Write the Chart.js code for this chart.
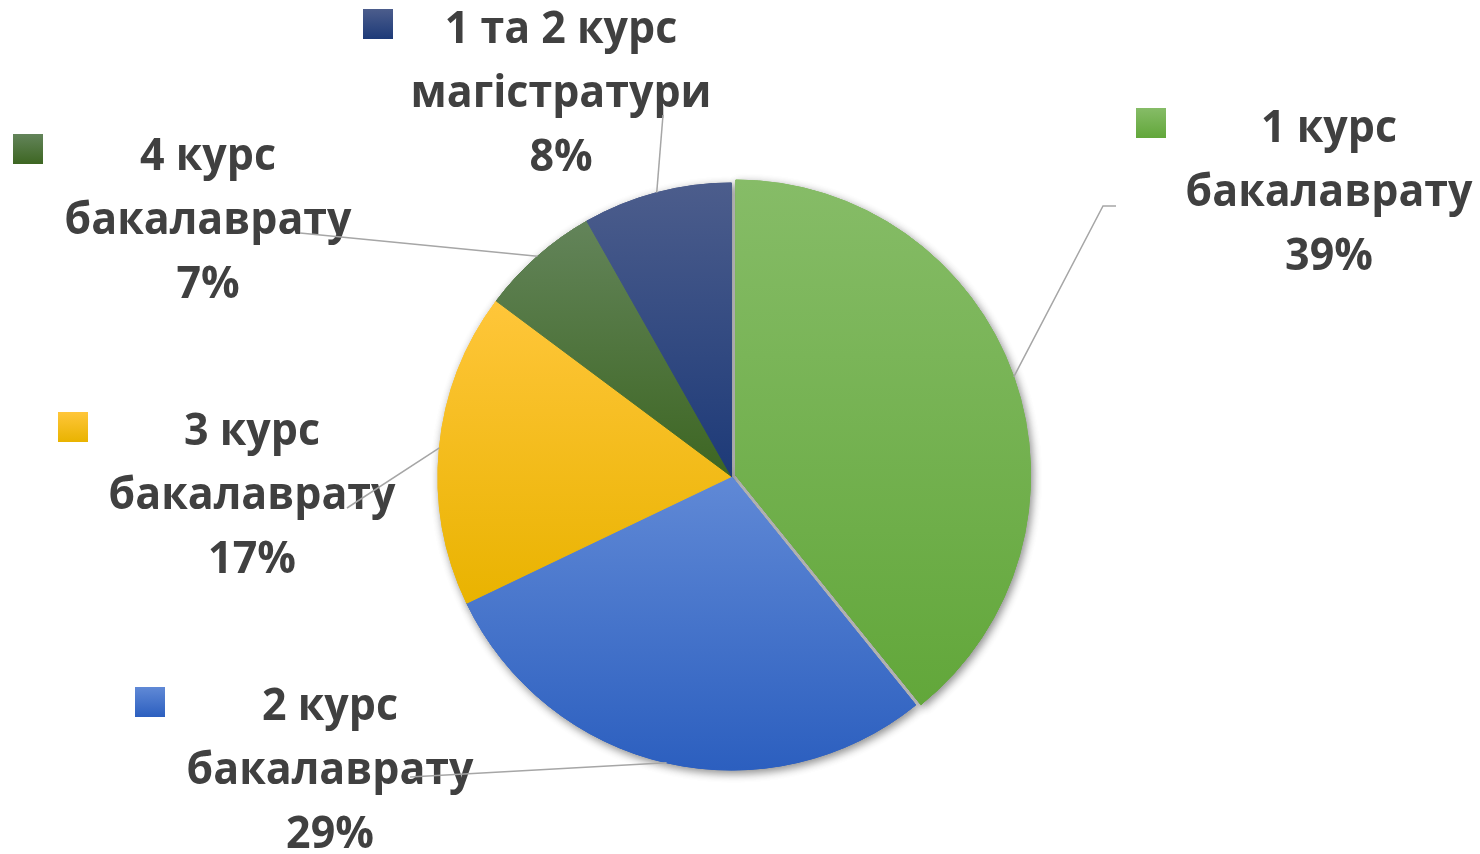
<!DOCTYPE html>
<html>
<head>
<meta charset="utf-8">
<script src="https://cdn.jsdelivr.net/npm/chart.js@4.4.1/dist/chart.umd.min.js"></script>
<style>
  html, body { margin: 0; padding: 0; background: #fff; }
  #wrap { width: 1480px; height: 854px; position: relative; }
</style>
</head>
<body>
<div id="wrap"><canvas id="pieChart" width="1480" height="854"></canvas></div>
<script>
  // data
  const categories = ['1 курс бакалаврату', '2 курс бакалаврату', '3 курс бакалаврату', '4 курс бакалаврату', '1 та 2 курс магістратури'];
  const labelLines = [['1 курс', 'бакалаврату'], ['2 курс', 'бакалаврату'], ['3 курс', 'бакалаврату'], ['4 курс', 'бакалаврату'], ['1 та 2 курс', 'магістратури']];
  const shares = [39.2, 28.7, 17.3, 6.6, 8.2];

  // colours (top / bottom of each slice gradient)
  const topColors = ['#86bc67', '#6089d6', '#ffc63a', '#63845a', '#4c5d8c'];
  const bottomColors = ['#62a73a', '#2c5fbf', '#e9b300', '#3d6622', '#1d3a78'];

  // label placement: text centre x, first baseline y, legend key top-left, leader line end
  const labelLayout = [
    { x: 1329, y: 142, key: [1136, 108], line: [[1103, 206], [1116, 206]] },
    { x: 330, y: 720, key: [135, 687], line: [[410, 777]] },
    { x: 252, y: 445, key: [58, 412], line: [[347, 508]] },
    { x: 208, y: 170, key: [13, 134], line: [[300, 233]] },
    { x: 561, y: 43, key: [363, 9], line: [[663, 115]] }
  ];

  const pieRadius = 293.5;
  const fontFamily = "'Open Sans', 'Noto Sans', sans-serif";
  const textColor = '#404040';
  const lineHeight = 64;

  const total = shares.reduce((a, b) => a + b, 0);

  function sliceGradient(context) {
    const i = context.dataIndex;
    const chart = context.chart;
    const ca = chart.chartArea;
    if (!ca || i === undefined) return topColors[i || 0];
    const cx = (ca.left + ca.right) / 2, cy = (ca.top + ca.bottom) / 2;
    let cum = 0;
    for (let k = 0; k < i; k++) cum += shares[k];
    const a0 = -Math.PI / 2 + 2 * Math.PI * cum / total;
    const a1 = a0 + 2 * Math.PI * shares[i] / total;
    const ys = [cy, cy + Math.sin(a0) * pieRadius, cy + Math.sin(a1) * pieRadius];
    [Math.PI / 2, 3 * Math.PI / 2].forEach(a => {
      if (a > a0 && a < a1) ys.push(cy + Math.sin(a) * pieRadius);
    });
    const g = chart.ctx.createLinearGradient(0, Math.min(...ys), 0, Math.max(...ys));
    g.addColorStop(0, topColors[i]);
    g.addColorStop(1, bottomColors[i]);
    return g;
  }

  // how far Chart.js actually moves an arc for a given offset
  function shiftOf(arc) {
    const off = (arc.options.offset || 0) / 4;
    const fix = 1 - Math.sin(Math.min(Math.PI, arc.circumference || 0));
    return off + off * fix;
  }

  // soft shadow under the slices
  const shadowPlugin = {
    id: 'sliceShadow',
    beforeDatasetsDraw(chart) {
      const ctx = chart.ctx;
      ctx.save();
      ctx.shadowColor = 'rgba(0,0,0,0.45)';
      ctx.shadowBlur = 9;
      ctx.shadowOffsetX = 2;
      ctx.shadowOffsetY = 3;
      chart.getDatasetMeta(0).data.forEach(arc => arc.draw(ctx));
      ctx.restore();
    }
  };

  // outside labels with legend keys and leader lines
  const labelPlugin = {
    id: 'outsideLabels',
    afterDatasetsDraw(chart) {
      const ctx = chart.ctx;
      const arcs = chart.getDatasetMeta(0).data;
      const fontSize = 45;
      ctx.save();
      ctx.font = 'bold ' + fontSize + 'px ' + fontFamily;
      const squeeze = Math.min(1, 287 / ctx.measureText('бакалаврату').width);
      ctx.fillStyle = textColor;
      ctx.textAlign = 'center';
      ctx.textBaseline = 'alphabetic';
      arcs.forEach((arc, i) => {
        const pos = labelLayout[i];
        const lines = labelLines[i].concat([Math.round(shares[i] / total * 100) + '%']);
        lines.forEach((t, j) => {
          ctx.save();
          ctx.translate(pos.x, pos.y + j * lineHeight);
          ctx.scale(squeeze, 1);
          ctx.fillText(t, 0, 0);
          ctx.restore();
        });
        // legend key
        const kx = pos.key[0], ky = pos.key[1];
        const g = ctx.createLinearGradient(0, ky, 0, ky + 30);
        g.addColorStop(0, topColors[i]);
        g.addColorStop(1, bottomColors[i]);
        ctx.fillStyle = g;
        ctx.fillRect(kx, ky, 30, 30);
        ctx.fillStyle = textColor;
      });
      // leader lines
      ctx.strokeStyle = '#a6a6a6';
      ctx.lineWidth = 1.5;
      arcs.forEach((arc, i) => {
        const mid = (arc.startAngle + arc.endAngle) / 2;
        const s = shiftOf(arc);
        const r = arc.outerRadius;
        ctx.beginPath();
        ctx.moveTo(arc.x + Math.cos(mid) * (r + s), arc.y + Math.sin(mid) * (r + s));
        labelLayout[i].line.forEach(p => ctx.lineTo(p[0], p[1]));
        ctx.stroke();
      });
      ctx.restore();
    }
  };

  const pieCtx = document.getElementById('pieChart').getContext('2d');
  const pieChart = new Chart(pieCtx, {
    type: 'pie',
    data: {
      labels: categories,
      datasets: [{
        data: shares,
        backgroundColor: sliceGradient,
        borderColor: sliceGradient,
        borderWidth: 1,
        offset: [17, 0, 0, 0, 0]
      }]
    },
    options: {
      responsive: false,
      animation: false,
      radius: pieRadius,
      layout: { padding: { left: 0, right: 17, top: 99, bottom: 0 } },
      plugins: {
        legend: { display: false },
        tooltip: { enabled: false }
      }
    },
    plugins: [shadowPlugin, labelPlugin]
  });
</script>
</body>
</html>
